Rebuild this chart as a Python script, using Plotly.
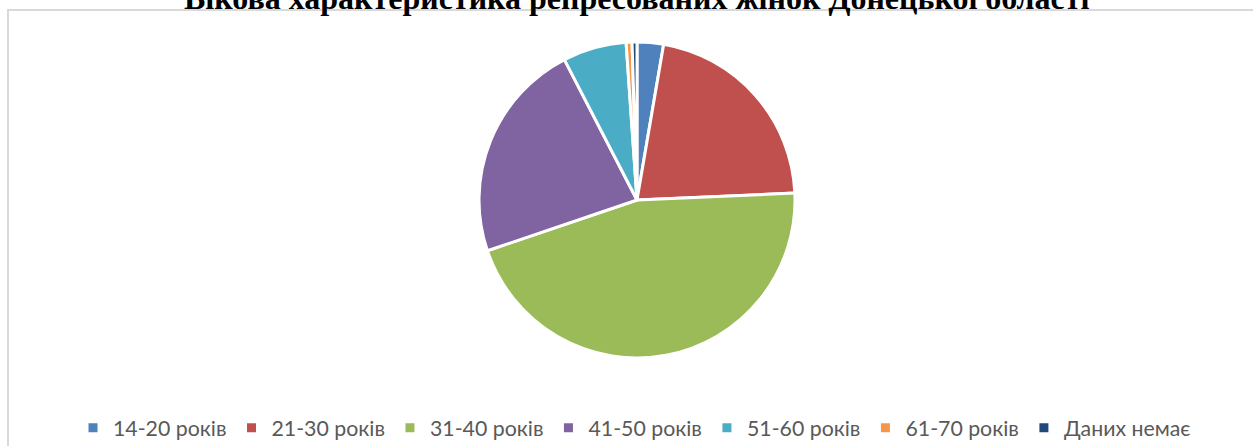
import plotly.graph_objects as go

title_text = "Вікова характеристика репресованих жінок Донецької області"
labels = ["14-20 років", "21-30 років", "31-40 років", "41-50 років", "51-60 років", "61-70 років", "Даних немає"]
values = [2.7, 21.6, 45.5, 22.6, 6.5, 0.6, 0.5]
colors = ["#4F81BD", "#C0504D", "#9BBB59", "#8064A2", "#4BACC6", "#F79646", "#1F497D"]

W, H = 1253, 446
cx, cy, r = 637, 200, 158

fig = go.Figure(go.Pie(
    labels=labels,
    values=values,
    sort=False,
    direction="clockwise",
    rotation=0,
    textinfo="none",
    hoverinfo="label+percent",
    marker=dict(colors=colors, line=dict(color="white", width=3)),
    domain=dict(x=[(cx - r) / W, (cx + r) / W], y=[(H - cy - r) / H, (H - cy + r) / H]),
))

fig.update_layout(
    width=W, height=H,
    margin=dict(l=0, r=0, t=0, b=0, autoexpand=False),
    paper_bgcolor="white",
    plot_bgcolor="white",
    showlegend=True,
    legend=dict(
        orientation="h",
        x=73 / W, xanchor="left",
        y=(H - 428) / H, yanchor="middle",
        font=dict(family="Lato", size=21.3, color="#595959"),
        bgcolor="rgba(0,0,0,0)",
        itemwidth=30,
        traceorder="normal",
    ),
    shapes=[dict(
        type="rect", xref="paper", yref="paper",
        x0=8 / W, x1=1.02, y0=-0.02, y1=1 - 10 / H,
        line=dict(color="#D9D9D9", width=2),
        fillcolor="rgba(0,0,0,0)",
        layer="below",
    )],
    annotations=[dict(
        text="<b>" + title_text + "</b>",
        xref="paper", yref="paper",
        x=636 / W, y=1 + 2 / H,
        xanchor="center", yanchor="middle",
        showarrow=False,
        font=dict(family="Liberation Serif", size=32, color="black"),
    )],
)

fig.write_html("out.html", config={"displayModeBar": False},
               post_script="document.body.style.margin='0';")
